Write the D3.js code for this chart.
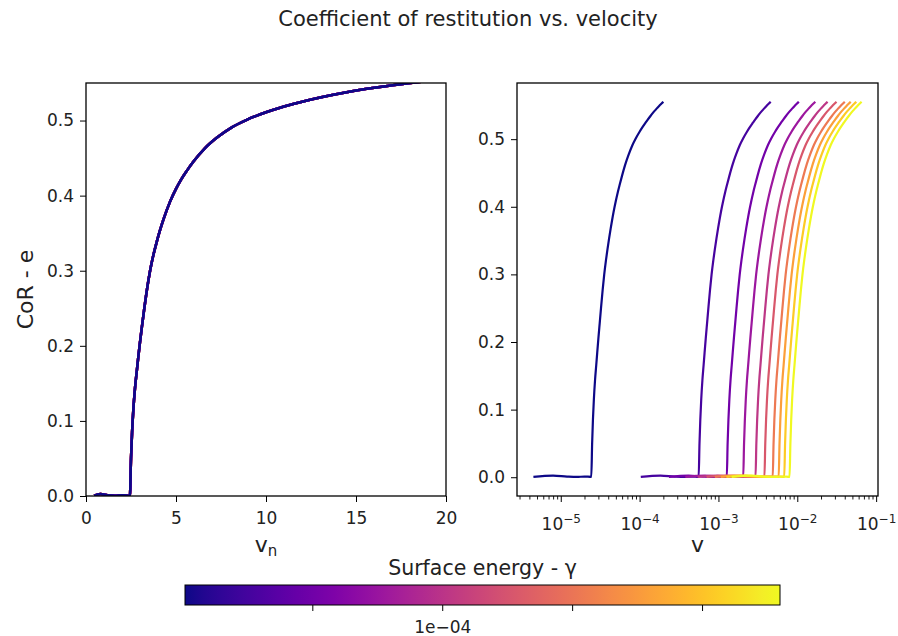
<!DOCTYPE html>
<html>
<head>
<meta charset="utf-8">
<script src="https://cdn.jsdelivr.net/npm/d3@7"></script>
<style>
  html, body { margin: 0; padding: 0; background: #ffffff; }
  svg { display: block; font-family: "DejaVu Sans", sans-serif; }
  .axis path, .axis line { stroke: #000; }
  .axis text { fill: #222; font-family: "DejaVu Sans", sans-serif; }
</style>
</head>
<body>
<svg id="chart" width="898" height="636"></svg>
<script>
// Normalised impact velocity and the resulting coefficient of restitution
const vn  = [0.45, 0.8, 1.2, 1.6, 2.0, 2.44, 2.5, 2.56, 2.63, 2.72, 2.82, 2.9, 3.0, 3.12, 3.24,
             3.4, 3.56, 3.75, 3.93, 4.1, 4.3, 4.67, 5.0, 5.3, 5.6, 5.96, 6.6, 7.26, 8.1, 8.93,
             10.0, 10.78, 11.9, 12.63, 13.74, 14.48, 15.6, 16.33, 17.8, 19.0, 20.0];
const cor = [0.0005, 0.0025, 0.001, 0.0004, 0.001, 0.0005, 0.05, 0.085, 0.115, 0.143, 0.166, 0.184,
             0.205, 0.228, 0.250, 0.277, 0.300, 0.3215, 0.3385, 0.353, 0.368, 0.392, 0.409, 0.422,
             0.433, 0.445, 0.463, 0.477, 0.491, 0.501, 0.511, 0.517, 0.5243, 0.5286, 0.5343, 0.5377,
             0.5422, 0.5448, 0.5494, 0.5527, 0.5553];

// Surface energy of each run and its characteristic velocity (v = vn * scale)
const gammaVals = [1.0e-6, 2.64e-5, 5.19e-5, 7.73e-5, 1.028e-4, 1.282e-4, 1.537e-4, 1.791e-4, 2.046e-4, 2.30e-4];
const velScale  = [1.0e-5, 2.30e-4, 5.23e-4, 8.45e-4, 1.21e-3, 1.57e-3, 2.0e-3, 2.38e-3, 2.80e-3, 3.27e-3];

// Tick values
const leftXTicks  = [0, 5, 10, 15, 20];
const eTicks      = [0, 0.1, 0.2, 0.3, 0.4, 0.5];
const logXExps    = [-5, -4, -3, -2, -1];
const cbarTicks   = [5e-5, 1e-4, 1.5e-4, 2e-4];
const cbarLabels  = ["", "1e\u221204", "", ""];

const svg = d3.select("#chart");
const tickFont = 17;

const gammaExtent = d3.extent(gammaVals);
const colorOf = g => d3.interpolatePlasma((g - gammaExtent[0]) / (gammaExtent[1] - gammaExtent[0]));

const runs = gammaVals.map((g, i) => ({
  gamma: g,
  color: colorOf(g),
  pts: vn.map((v, k) => ({ vn: v, v: v * velScale[i], e: cor[k] }))
}));

// ---------- left panel: e vs normalised velocity ----------
const L = { x0: 86, x1: 446, y0: 83, y1: 496 };
const xL = d3.scaleLinear().domain([0, 20]).range([L.x0, L.x1]);
const yL = d3.scaleLinear().domain([0, 0.55]).range([L.y1, L.y0]);

const defs = svg.append("defs");
defs.append("clipPath").attr("id", "clipL").append("rect")
  .attr("x", L.x0).attr("y", L.y0).attr("width", L.x1 - L.x0).attr("height", L.y1 - L.y0);

const lineL = d3.line().curve(d3.curveMonotoneX).x(d => xL(d.vn)).y(d => yL(d.e));
svg.append("g").attr("clip-path", "url(#clipL)")
  .selectAll("path").data(runs.slice().reverse()).join("path")
  .attr("d", d => lineL(d.pts))
  .attr("fill", "none").attr("stroke", d => d.color)
  .attr("stroke-width", 2.5).attr("stroke-linejoin", "round");

svg.append("g").attr("class", "axis").attr("transform", `translate(0,${L.y1})`)
  .call(d3.axisBottom(xL).tickValues(leftXTicks).tickFormat(d3.format("d"))
    .tickSize(6).tickSizeOuter(0).tickPadding(10))
  .call(g => g.selectAll("text").attr("font-size", tickFont))
  .call(g => g.select(".domain").remove());
svg.append("g").attr("class", "axis").attr("transform", `translate(${L.x0},0)`)
  .call(d3.axisLeft(yL).tickValues(eTicks).tickFormat(d3.format(".1f"))
    .tickSize(6).tickSizeOuter(0).tickPadding(6))
  .call(g => g.selectAll("text").attr("font-size", tickFont))
  .call(g => g.select(".domain").remove());
svg.append("rect").attr("x", L.x0).attr("y", L.y0)
  .attr("width", L.x1 - L.x0).attr("height", L.y1 - L.y0)
  .attr("fill", "none").attr("stroke", "#000").attr("stroke-width", 1.3);

// ---------- right panel: e vs dimensional velocity (log) ----------
const R = { x0: 517, x1: 878, y0: 83, y1: 496 };
const allV = runs.flatMap(r => r.pts.map(p => p.v));
const lv = d3.extent(allV).map(Math.log10);
const lm = (lv[1] - lv[0]) * 0.05;
const xR = d3.scaleLog().domain([10 ** (lv[0] - lm), 10 ** (lv[1] + lm)]).range([R.x0, R.x1]);
const eMax = d3.max(cor), eMin = 0;
const em = (eMax - eMin) * 0.05;
const yR = d3.scaleLinear().domain([eMin - em, eMax + em]).range([R.y1, R.y0]);

const lineR = d3.line().curve(d3.curveMonotoneX).x(d => xR(d.v)).y(d => yR(d.e));
svg.append("g").selectAll("path").data(runs).join("path")
  .attr("d", d => lineR(d.pts))
  .attr("fill", "none").attr("stroke", d => d.color)
  .attr("stroke-width", 2.2).attr("stroke-linejoin", "round");

// minor log ticks
const dom = xR.domain();
const minor = [];
for (let p = -7; p <= 0; p++) for (let m = 2; m <= 9; m++) {
  const v = m * 10 ** p;
  if (v >= dom[0] && v <= dom[1]) minor.push(v);
}
svg.append("g").attr("class", "axis").attr("transform", `translate(0,${R.y1})`)
  .call(d3.axisBottom(xR).tickValues(minor).tickFormat("").tickSize(3.5).tickSizeOuter(0))
  .call(g => g.select(".domain").remove())
  .call(g => g.selectAll("line").attr("stroke-width", 0.9));

const majorX = logXExps.map(p => 10 ** p);
const gxR = svg.append("g").attr("class", "axis").attr("transform", `translate(0,${R.y1})`)
  .call(d3.axisBottom(xR).tickValues(majorX).tickFormat("").tickSize(6).tickSizeOuter(0).tickPadding(10))
  .call(g => g.select(".domain").remove());
gxR.selectAll(".tick").each(function (d, i) {
  const t = d3.select(this).select("text")
    .attr("font-size", tickFont).attr("dy", null).attr("y", 33.5);
  t.append("tspan").text("10");
  t.append("tspan").attr("dy", -7).attr("font-size", 12).text("\u2212" + Math.abs(logXExps[i]));
});

svg.append("g").attr("class", "axis").attr("transform", `translate(${R.x0},0)`)
  .call(d3.axisLeft(yR).tickValues(eTicks).tickFormat(d3.format(".1f"))
    .tickSize(6).tickSizeOuter(0).tickPadding(6))
  .call(g => g.selectAll("text").attr("font-size", tickFont))
  .call(g => g.select(".domain").remove());
svg.append("rect").attr("x", R.x0).attr("y", R.y0)
  .attr("width", R.x1 - R.x0).attr("height", R.y1 - R.y0)
  .attr("fill", "none").attr("stroke", "#000").attr("stroke-width", 1.3);

// ---------- labels ----------
svg.append("text").attr("x", 468).attr("y", 26).attr("text-anchor", "middle")
  .attr("font-size", 21).attr("fill", "#222").text("Coefficient of restitution vs. velocity");

svg.append("text").attr("transform", `translate(33,${(L.y0 + L.y1) / 2}) rotate(-90)`)
  .attr("text-anchor", "middle").attr("font-size", 22).attr("fill", "#222").text("CoR - e");

const vnLab = svg.append("text").attr("x", (L.x0 + L.x1) / 2).attr("y", 552)
  .attr("text-anchor", "middle").attr("font-size", 22).attr("fill", "#222");
vnLab.append("tspan").text("v");
vnLab.append("tspan").attr("dy", 4).attr("font-size", 15).text("n");

svg.append("text").attr("x", (R.x0 + R.x1) / 2).attr("y", 552)
  .attr("text-anchor", "middle").attr("font-size", 22).attr("fill", "#222").text("v");

// ---------- colour bar ----------
const C = { x0: 185, x1: 780, y0: 585, y1: 605 };
const grad = defs.append("linearGradient").attr("id", "plasmaGrad")
  .attr("x1", "0%").attr("x2", "100%").attr("y1", "0%").attr("y2", "0%");
d3.range(0, 1.0001, 1 / 32).forEach(t => {
  grad.append("stop").attr("offset", (t * 100) + "%").attr("stop-color", d3.interpolatePlasma(t));
});
svg.append("rect").attr("x", C.x0).attr("y", C.y0)
  .attr("width", C.x1 - C.x0).attr("height", C.y1 - C.y0)
  .attr("fill", "url(#plasmaGrad)").attr("stroke", "#000").attr("stroke-width", 1);

const xC = d3.scaleLinear().domain(gammaExtent).range([C.x0, C.x1]);
svg.append("g").attr("class", "axis").attr("transform", `translate(0,${C.y1})`)
  .call(d3.axisBottom(xC).tickValues(cbarTicks).tickFormat((d, i) => cbarLabels[i])
    .tickSize(6).tickSizeOuter(0).tickPadding(10))
  .call(g => g.selectAll("text").attr("font-size", tickFont))
  .call(g => g.select(".domain").remove());

svg.append("text").attr("x", (C.x0 + C.x1) / 2).attr("y", 575).attr("text-anchor", "middle")
  .attr("font-size", 20.5).attr("fill", "#222").text("Surface energy - \u03b3");
</script>
</body>
</html>
